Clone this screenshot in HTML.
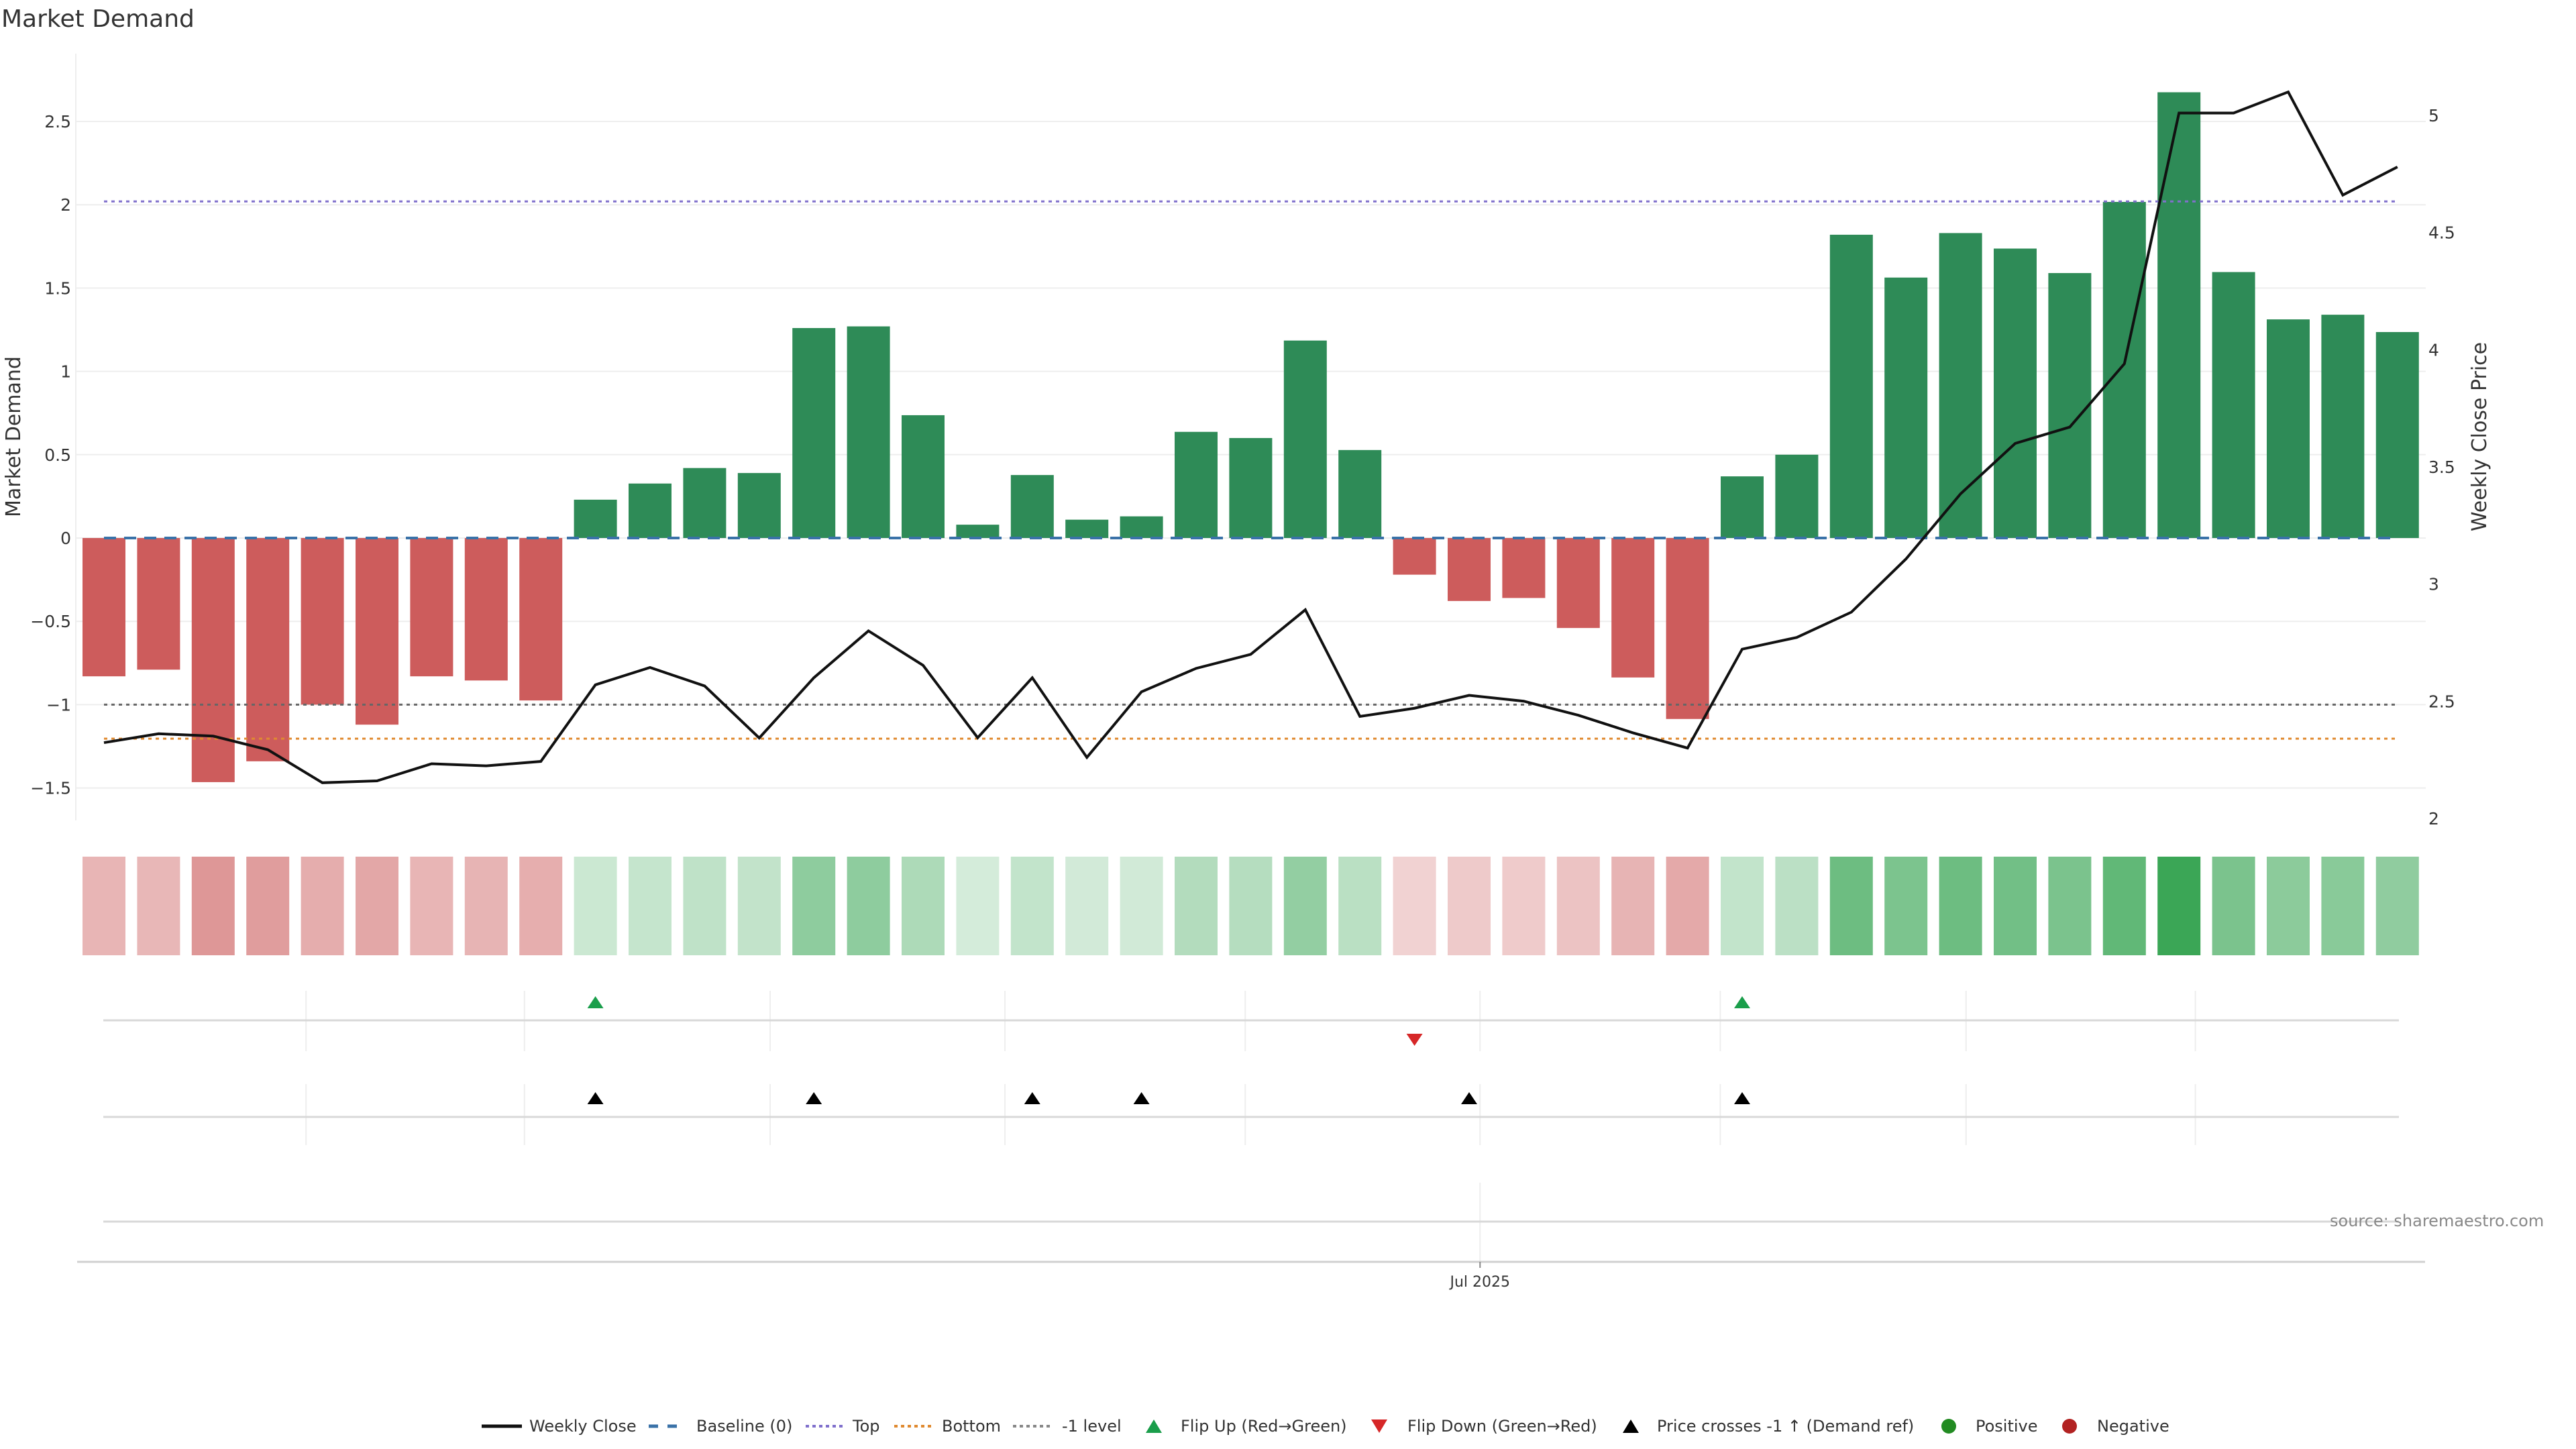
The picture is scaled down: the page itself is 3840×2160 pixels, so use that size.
<!DOCTYPE html>
<html><head><meta charset="utf-8"><style>
html,body{margin:0;padding:0;background:#fff}
svg{display:block;font-family:"DejaVu Sans","Liberation Sans",sans-serif}
</style></head><body>
<svg id="chart" width="3840" height="2160" viewBox="0 0 3840 2160" xmlns="http://www.w3.org/2000/svg">
<text x="2" y="40" font-size="36" fill="#333">Market Demand</text>
<g id="grid"></g>
<g id="bars"></g>
<g id="refs"></g>
<g id="price"></g>
<g id="yleft"></g>
<g id="yright"></g>
<text transform="translate(30,651) rotate(-90)" text-anchor="middle" font-size="30" fill="#333">Market Demand</text>
<text transform="translate(3706,651) rotate(-90)" text-anchor="middle" font-size="30" fill="#333">Weekly Close Price</text>
<g id="heat"></g>
<g id="panels"></g>
<g id="xaxis"></g>
<text x="3473" y="1828" font-size="24" fill="#888">source: sharemaestro.com</text>
<g id="legend"></g>
</svg>
<script>
const demand = [-0.83,-0.79,-1.465,-1.34,-1.0,-1.12,-0.83,-0.855,-0.975,0.23,0.327,0.42,0.39,1.26,1.27,0.737,0.08,0.378,0.11,0.13,0.637,0.6,1.185,0.528,-0.22,-0.378,-0.36,-0.54,-0.837,-1.086,0.37,0.5,1.82,1.563,1.83,1.737,1.59,2.017,2.675,1.596,1.312,1.34,1.236];
const close = [2.323,2.361,2.351,2.293,2.152,2.16,2.233,2.224,2.243,2.57,2.644,2.565,2.343,2.6,2.80,2.653,2.344,2.6,2.26,2.54,2.64,2.70,2.89,2.435,2.47,2.525,2.50,2.44,2.365,2.30,2.722,2.772,2.88,3.107,3.385,3.6,3.67,3.94,5.01,5.01,5.10,4.66,4.78];
const flipUp = [9,30];
const flipDown = [24];
const priceCross = [9,13,17,19,25,30];
const leftTicks = [-1.5,-1,-0.5,0,0.5,1,1.5,2,2.5];
const leftTickLabels = ["\u22121.5","\u22121","\u22120.5","0","0.5","1","1.5","2","2.5"];
const rightTicks = [2,2.5,3,3.5,4,4.5,5];
const rightTickLabels = ["2","2.5","3","3.5","4","4.5","5"];
const topLevel = 2.02, bottomLevel = -1.204, minusOneLevel = -1;
const monthGridIdx = [3.7,7.7,12.2,16.5,20.9,25.2,29.6,34.1,38.3];
const xTickIdx = [25.2];
const xTickLabels = ["Jul 2025"];

const NS="http://www.w3.org/2000/svg";
function mk(tag,attrs,parent){const e=document.createElementNS(NS,tag);for(const k in attrs)e.setAttribute(k,attrs[k]);parent.appendChild(e);return e;}
const X=i=>155+i*81.4;
const BW=64;
const YL=v=>802-v*248.4;
const YR=p=>172+(5-p)*349.3;
const G=id=>document.getElementById(id);

const grid=G('grid');
leftTicks.forEach(t=>{const l=mk('line',{x1:113,x2:3616,y1:YL(t),y2:YL(t),stroke:'#eeeeee','stroke-width':2},grid);});
const ax=mk('line',{x1:113,x2:113,y1:80,y2:1223,stroke:'#eee','stroke-width':2},grid);


const yl=G('yleft');
leftTicks.forEach((t,i)=>{const tx=mk('text',{x:106,y:YL(t)+9,'text-anchor':'end','font-size':25,fill:'#333'},yl);tx.textContent=leftTickLabels[i];});
const yr=G('yright');
rightTicks.forEach((t,i)=>{const tx=mk('text',{x:3620,y:YR(t)+9,'font-size':25,fill:'#333'},yr);tx.textContent=rightTickLabels[i];});

const bars=G('bars');
demand.forEach((v,i)=>{const y0=YL(0),y1=YL(v);const r=mk('rect',{x:X(i)-BW/2,y:Math.min(y0,y1),width:BW,height:Math.abs(y1-y0),fill:v>=0?'#2e8b57':'#cd5c5c'},bars);});

const refs=G('refs');
function ref(v,color,dash,name,w){const l=mk('line',{x1:X(0),x2:X(demand.length-1),y1:YL(v),y2:YL(v),stroke:color,'stroke-width':w||3,'stroke-dasharray':dash},refs);}
ref(0,'#3a72a8','18,12','baseline-line',4);
ref(topLevel,'#8070cc','5,6','top-line');
ref(bottomLevel,'#e08a30','5,6','bottom-line');
ref(minusOneLevel,'#666','5,6','minus-one-line');

const pl=mk('polyline',{points:close.map((p,i)=>X(i)+','+YR(p)).join(' '),fill:'none',stroke:'#111','stroke-width':4,'stroke-linejoin':'miter'},G('price'));


const heat=G('heat');
demand.forEach((v,i)=>{let fill,op;if(v>=0){fill='#34a350';op=Math.min(1,0.19+0.29*v);}else{fill='#c85050';op=Math.min(1,0.2+0.27*Math.abs(v));}
const r=mk('rect',{x:X(i)-BW/2,y:1277,width:BW,height:147,fill:fill,'fill-opacity':op},heat);});

const pan=G('panels');
function vgrid(y1,y2,idxs){idxs.forEach(ix=>{const l=mk('line',{x1:X(ix),x2:X(ix),y1:y1,y2:y2,stroke:'#eeeeee','stroke-width':2},pan);});}
vgrid(1477,1567,monthGridIdx);vgrid(1616,1707,monthGridIdx);vgrid(1763,1881,xTickIdx);
[1521,1665,1821].forEach(y=>{const l=mk('line',{x1:154,x2:3576,y1:y,y2:y,stroke:'#d8d8d8','stroke-width':3},pan);});
function tri(cx,cy,up,color){const h=18,w=12;const pts=up?`${cx-w},${cy+h/2} ${cx+w},${cy+h/2} ${cx},${cy-h/2}`:`${cx-w},${cy-h/2} ${cx+w},${cy-h/2} ${cx},${cy+h/2}`;return mk('polygon',{points:pts,fill:color},pan);}
flipUp.forEach(i=>{const t=tri(X(i),1494,true,'#1a9e4b');});
flipDown.forEach(i=>{const t=tri(X(i),1550,false,'#d62728');});
priceCross.forEach(i=>{const t=tri(X(i),1637,true,'#000');});

const xa=G('xaxis');
const axl=mk('line',{x1:115,x2:3615,y1:1881,y2:1881,stroke:'#d0d0d0','stroke-width':3},xa);

xTickIdx.forEach((ix,k)=>{const t=mk('line',{x1:X(ix),x2:X(ix),y1:1881,y2:1890,stroke:'#888','stroke-width':2},xa);
const tx=mk('text',{x:X(ix),y:1918,'text-anchor':'middle','font-size':22,fill:'#333'},xa);tx.textContent=xTickLabels[k];});

const lg=G('legend');const LY=2126;
function ltext(x,s){const t=mk('text',{x:x,y:LY+8,'font-size':24,fill:'#333'},lg);t.textContent=s;}
function lline(x1,x2,color,dash,w){const l=mk('line',{x1:x1,x2:x2,y1:LY,y2:LY,stroke:color,'stroke-width':w,'stroke-dasharray':dash},lg);}
lline(718,778,'#111','none',5);ltext(789,'Weekly Close');
lline(967,1010,'#3a72a8','14,14',5);ltext(1038,'Baseline (0)');
lline(1201,1256,'#8070cc','5,5',4);ltext(1271,'Top');
lline(1333,1388,'#e08a30','5,5',4);ltext(1404,'Bottom');
lline(1510,1567,'#888','5,5',4);ltext(1583,'-1 level');
function ltri(cx,up,color){const h=20,w=12;const pts=up?`${cx-w},${LY+h/2} ${cx+w},${LY+h/2} ${cx},${LY-h/2}`:`${cx-w},${LY-h/2} ${cx+w},${LY-h/2} ${cx},${LY+h/2}`;const p=mk('polygon',{points:pts,fill:color},lg);}
ltri(1720,true,'#1a9e4b');ltext(1760,'Flip Up (Red\u2192Green)');
ltri(2056,false,'#d62728');ltext(2098,'Flip Down (Green\u2192Red)');
ltri(2431,true,'#000');ltext(2470,'Price crosses -1 \u2191 (Demand ref)');
const c1=mk('circle',{cx:2905,cy:LY,r:11,fill:'#228b22'},lg);ltext(2945,'Positive');
const c2=mk('circle',{cx:3085,cy:LY,r:11,fill:'#b22222'},lg);ltext(3126,'Negative');
</script>
</body></html>
